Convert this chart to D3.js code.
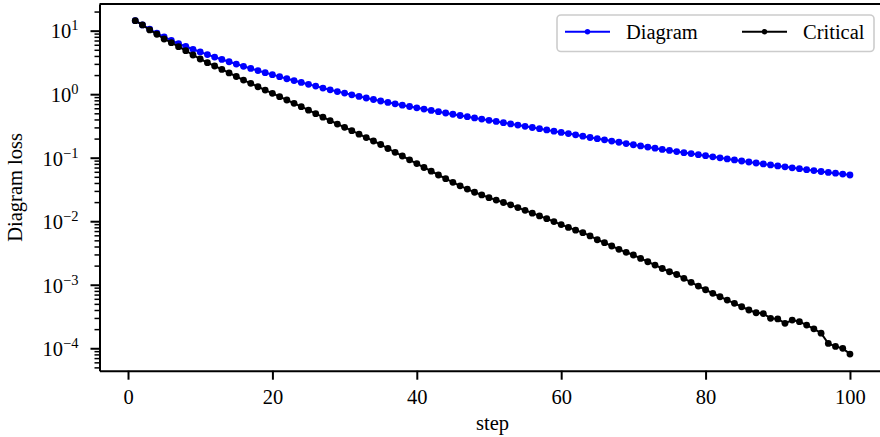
<!DOCTYPE html>
<html>
<head>
<meta charset="utf-8">
<script src="https://cdn.jsdelivr.net/npm/d3@7"></script>
<style>
  html, body { margin: 0; padding: 0; background: #fff; }
  svg { display: block; }
</style>
</head>
<body>
<svg id="chart" width="880" height="437"></svg>
<script>
// Loss per optimisation step (steps 1..100)
const diagramLoss = [
  14.37, 12.30, 10.52, 9.10, 7.96, 7.01, 6.26, 5.64, 5.09, 4.62,
  4.20, 3.84, 3.52, 3.24, 2.98, 2.75, 2.54, 2.35, 2.18, 2.03,
  1.89, 1.75, 1.64, 1.53, 1.43, 1.34, 1.25, 1.17, 1.10, 1.04,
  0.978, 0.923, 0.871, 0.825, 0.781, 0.743, 0.706, 0.671, 0.640, 0.611,
  0.583, 0.556, 0.530, 0.506, 0.483, 0.462, 0.442, 0.423, 0.405, 0.388,
  0.372, 0.356, 0.340, 0.326, 0.312, 0.299, 0.286, 0.274, 0.262, 0.250,
  0.240, 0.229, 0.218, 0.208, 0.199, 0.191, 0.183, 0.175, 0.167, 0.160,
  0.153, 0.147, 0.141, 0.135, 0.130, 0.125, 0.120, 0.116, 0.1115, 0.1075,
  0.1033, 0.0996, 0.0957, 0.0923, 0.0887, 0.0856, 0.0825, 0.0799, 0.0770, 0.0743,
  0.0719, 0.0693, 0.0671, 0.0647, 0.0626, 0.0606, 0.0587, 0.0570, 0.0552, 0.0534
];
const criticalLoss = [
  14.37, 12.30, 10.26, 8.78, 7.40, 6.47, 5.60, 4.84, 4.14, 3.58,
  3.13, 2.78, 2.45, 2.16, 1.90, 1.67, 1.48, 1.31, 1.16, 1.03,
  0.913, 0.810, 0.719, 0.636, 0.560, 0.493, 0.434, 0.383, 0.339, 0.301,
  0.266, 0.2345, 0.2073, 0.1832, 0.1614, 0.1396, 0.1216, 0.1064, 0.0927, 0.0807,
  0.0701, 0.0613, 0.0534, 0.0467, 0.0410, 0.0361, 0.0321, 0.0286, 0.0259, 0.0235,
  0.0215, 0.0197, 0.0181, 0.0164, 0.01485, 0.01341, 0.01212, 0.01095, 0.00986, 0.00884,
  0.00799, 0.00724, 0.00661, 0.00587, 0.00511, 0.00459, 0.00407, 0.00361, 0.00324, 0.00294,
  0.00260, 0.00230, 0.00204, 0.00180, 0.00160, 0.00145, 0.00126, 0.00109, 0.000954, 0.000834,
  0.000732, 0.000647, 0.000574, 0.000510, 0.000450, 0.000400, 0.000362, 0.000352, 0.000296, 0.000290,
  0.000247, 0.000278, 0.000262, 0.000232, 0.000202, 0.000173, 0.000119, 0.000107, 0.0000996, 0.0000811
];
const seriesNames = ["Diagram", "Critical"];
const seriesColors = ["#0000ff", "#000000"];
const xTicks = [0, 20, 40, 60, 80, 100];
const yDecades = [-4, -3, -2, -1, 0, 1];
const steps = d3.range(1, diagramLoss.length + 1);

const FONT = "'Liberation Serif', 'DejaVu Serif', serif";
const FS = "20.5px";
const svg = d3.select("#chart");
const plot = { left: 99.5, right: 885.7, top: 4, bottom: 370.7 };

// x: 5% margin on each side of the step range
const xPad = (d3.max(steps) - d3.min(steps)) * 0.05;
const x = d3.scaleLinear()
  .domain([d3.min(steps) - xPad, d3.max(steps) + xPad])
  .range([plot.left, plot.right]);

// y: log scale, 5% margin in decades
const allVals = diagramLoss.concat(criticalLoss);
const lMin = Math.log10(d3.min(allVals)), lMax = Math.log10(d3.max(allVals));
const lPad = (lMax - lMin) * 0.05;
const y = d3.scaleLog()
  .domain([Math.pow(10, lMin - lPad), Math.pow(10, lMax + lPad)])
  .range([plot.bottom, plot.top]);

// minor ticks: 2..9 within each decade, inside the domain
const [yLo, yHi] = y.domain();
const minorTicks = [];
for (let e = Math.floor(Math.log10(yLo)); e <= Math.ceil(Math.log10(yHi)); e++) {
  for (let m = 2; m <= 9; m++) {
    const v = m * Math.pow(10, e);
    if (v >= yLo && v <= yHi) minorTicks.push(v);
  }
}

// series lines and markers
const line = d3.line().x((d, i) => x(steps[i])).y(d => y(d));
[diagramLoss, criticalLoss].forEach((data, k) => {
  const g = svg.append("g");
  g.append("path").datum(data)
    .attr("d", line)
    .attr("fill", "none")
    .attr("stroke", seriesColors[k])
    .attr("stroke-width", 2)
    .attr("stroke-linejoin", "round");
  g.selectAll("circle").data(data).join("circle")
    .attr("cx", (d, i) => x(steps[i]))
    .attr("cy", d => y(d))
    .attr("r", 3.4)
    .attr("fill", seriesColors[k]);
});

// minor y ticks
svg.append("g")
  .attr("transform", `translate(${plot.left},0)`)
  .call(d3.axisLeft(y).tickValues(minorTicks).tickSize(5).tickFormat("").tickSizeOuter(0))
  .call(g => g.select(".domain").remove())
  .call(g => g.selectAll(".tick line").attr("stroke", "#000").attr("stroke-width", 1.5));

// major y axis
const yAxis = svg.append("g")
  .attr("transform", `translate(${plot.left},0)`)
  .call(d3.axisLeft(y).tickValues(yDecades.map(e => Math.pow(10, e))).tickSize(9).tickSizeOuter(0).tickFormat(""));
yAxis.select(".domain").attr("stroke", "#000").attr("stroke-width", 2);
yAxis.selectAll(".tick line").attr("stroke", "#000").attr("stroke-width", 2);
yAxis.selectAll(".tick text")
  .attr("x", -21).attr("dy", null).attr("y", 7.3)
  .attr("text-anchor", "end")
  .style("font-family", FONT).style("font-size", FS).attr("fill", "#000")
  .each(function (d) {
    const t = d3.select(this);
    const e = Math.round(Math.log10(d));
    t.text(null);
    t.append("tspan").text("10");
    t.append("tspan").attr("dy", -8).style("font-size", "14.5px")
      .text(e < 0 ? "\u2212" + Math.abs(e) : String(e));
  });

// x axis
const xAxis = svg.append("g")
  .attr("transform", `translate(0,${plot.bottom})`)
  .call(d3.axisBottom(x).tickValues(xTicks).tickSize(9).tickSizeOuter(0));
xAxis.select(".domain").attr("stroke", "#000").attr("stroke-width", 2);
xAxis.selectAll(".tick line").attr("stroke", "#000").attr("stroke-width", 2);
xAxis.selectAll(".tick text")
  .attr("dy", null).attr("y", 33.5)
  .style("font-family", FONT).style("font-size", FS).attr("fill", "#000");

// top spine
svg.append("line")
  .attr("x1", plot.left).attr("x2", plot.right)
  .attr("y1", plot.top).attr("y2", plot.top)
  .attr("stroke", "#000").attr("stroke-width", 2);
// right spine
svg.append("line")
  .attr("x1", plot.right).attr("x2", plot.right)
  .attr("y1", plot.top).attr("y2", plot.bottom)
  .attr("stroke", "#000").attr("stroke-width", 2);

// axis titles
svg.append("text")
  .attr("x", (plot.left + plot.right) / 2).attr("y", 430)
  .attr("text-anchor", "middle")
  .style("font-family", FONT).style("font-size", FS)
  .text("step");
svg.append("text")
  .attr("transform", `translate(22,${(plot.top + plot.bottom) / 2}) rotate(-90)`)
  .attr("text-anchor", "middle")
  .style("font-family", FONT).style("font-size", FS)
  .text("Diagram loss");

// legend
const legend = svg.append("g");
legend.append("rect")
  .attr("x", 557).attr("y", 15).attr("width", 317).attr("height", 36.5)
  .attr("rx", 4).attr("ry", 4)
  .attr("fill", "#fff").attr("fill-opacity", 0.8)
  .attr("stroke", "#cccccc").attr("stroke-width", 1.6);
const legendX = [565, 742];
seriesNames.forEach((name, k) => {
  const lx = legendX[k];
  legend.append("line")
    .attr("x1", lx).attr("x2", lx + 45).attr("y1", 31.7).attr("y2", 31.7)
    .attr("stroke", seriesColors[k]).attr("stroke-width", 2);
  legend.append("circle")
    .attr("cx", lx + 22.5).attr("cy", 31.7).attr("r", 2.7)
    .attr("fill", seriesColors[k]);
  legend.append("text")
    .attr("x", lx + 61).attr("y", 38.8)
    .style("font-family", FONT).style("font-size", FS)
    .text(name);
});
</script>
</body>
</html>
